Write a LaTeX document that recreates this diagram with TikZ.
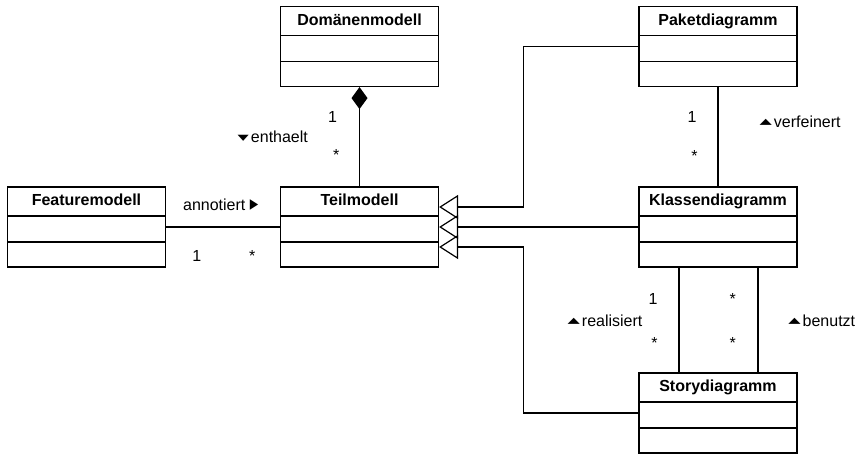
\documentclass[tikz,border=0pt]{standalone}
\usepackage{fontspec}
\setmainfont{Liberation Sans}
\newfontfamily\symfont[Scale=1.4]{DejaVu Sans}
\usetikzlibrary{arrows.meta}

% small reading-direction triangles for the association names
\newcommand{\tridown}{\raisebox{0.5pt}{\scalebox{1.0}[0.55]{\symfont ▾}}\kern2pt}
\newcommand{\triright}{\scalebox{0.75}[0.95]{\symfont ▸}}
\newcommand{\triup}{\raisebox{2.5pt}{\scalebox{1.1}[0.55]{\symfont ▴}}\kern2pt}

\begin{document}
\begin{tikzpicture}[x=1pt, y=-1pt, line width=1.2pt, line join=miter, font=\fontsize{16}{19}\selectfont]
  \tikzstyle{class}=[draw, minimum width=158pt, minimum height=80pt, inner sep=0pt,
    path picture={
      \draw ([yshift=-29pt]path picture bounding box.north west) -- ([yshift=-29pt]path picture bounding box.north east);
      \draw ([yshift=-55pt]path picture bounding box.north west) -- ([yshift=-55pt]path picture bounding box.north east);
    }]
  \tikzstyle{class_name}=[font=\fontsize{16}{19}\selectfont\bfseries, anchor=base, inner sep=0pt]
  \tikzstyle{mult}=[inner sep=0pt, text height=11.5pt, text depth=0pt]
  \tikzstyle{gen}=[-{Triangle[open, length=19pt, width=24pt]}]
  \tikzstyle{comp}=[{Diamond[length=22pt, width=16pt]}-]

  \useasboundingbox (0,0) rectangle (857,454);

  \node[class] (dom)    at (359.5,46.5) {};
  \node[class] (feat)   at (86.5,227)   {};
  \node[class] (teil)   at (359.5,227)  {};
  \node[class] (paket)  at (718,46.5)   {};
  \node[class] (klasse) at (718,227)    {};
  \node[class] (story)  at (718,413)    {};

  \node[class_name] (domname)    at ([yshift=-19.5pt]dom.north)    {Domänenmodell};
  \node[class_name] (featname)   at ([yshift=-19.5pt]feat.north)   {Featuremodell};
  \node[class_name] (teilname)   at ([yshift=-19.5pt]teil.north)   {Teilmodell};
  \node[class_name] (paketname)  at ([yshift=-19.5pt]paket.north)  {Paketdiagramm};
  \node[class_name] (klassename) at ([yshift=-19.5pt]klasse.north) {Klassendiagramm};
  \node[class_name] (storyname)  at ([yshift=-19.5pt]story.north)  {Storydiagramm};

  \path (dom.south) edge[comp] node[mult, pos=0.3, left=22pt] (domone) {1}
                               node[mult, pos=0.68, left=19.5pt] (domstar) {*}
                               node[mult, midway, left=51pt] (enthaelt) {\tridown enthaelt} (teil.north)
        (feat) edge node[mult, pos=0.48, above=16.3pt] (annotiert) {annotiert \triright}
                    node[mult, pos=0.27, below=22.5pt] (featone) {1}
                    node[mult, pos=0.757, below=22pt] (featstar) {*} (teil)
        (paket) edge node[mult, pos=0.3, left=20.8pt] (paketone) {1}
                     node[mult, pos=0.69, left=19.7pt] (paketstar) {*}
                     node[mult, pos=0.354, right=41pt] (verfeinert) {\triup verfeinert} (klasse);

  \path ([xshift=-39pt]klasse.south) edge node[mult, pos=0.3, left=20.8pt] (realone) {1}
                                          node[mult, pos=0.715, left=20.7pt] (realstar) {*}
                                          node[mult, pos=0.51, left=36pt] (realisiert) {\triup realisiert} ([xshift=-39pt]story.north)
        ([xshift=40pt]klasse.south) edge node[mult, pos=0.3, left=21.5pt] (usestara) {*}
                                         node[mult, pos=0.715, left=21.5pt] (usestarb) {*}
                                         node[mult, pos=0.51, right=29.7pt] (benutzt) {\triup benutzt} ([xshift=40pt]story.north);

  \draw[gen] (paket.west) -- ++(-115,0) |- ([yshift=20pt]teil.east);
  \draw[gen] (klasse) -- (teil);
  \draw[gen] (story.west) -- ++(-115,0) |- ([yshift=-20pt]teil.east);

\end{tikzpicture}
\end{document}
